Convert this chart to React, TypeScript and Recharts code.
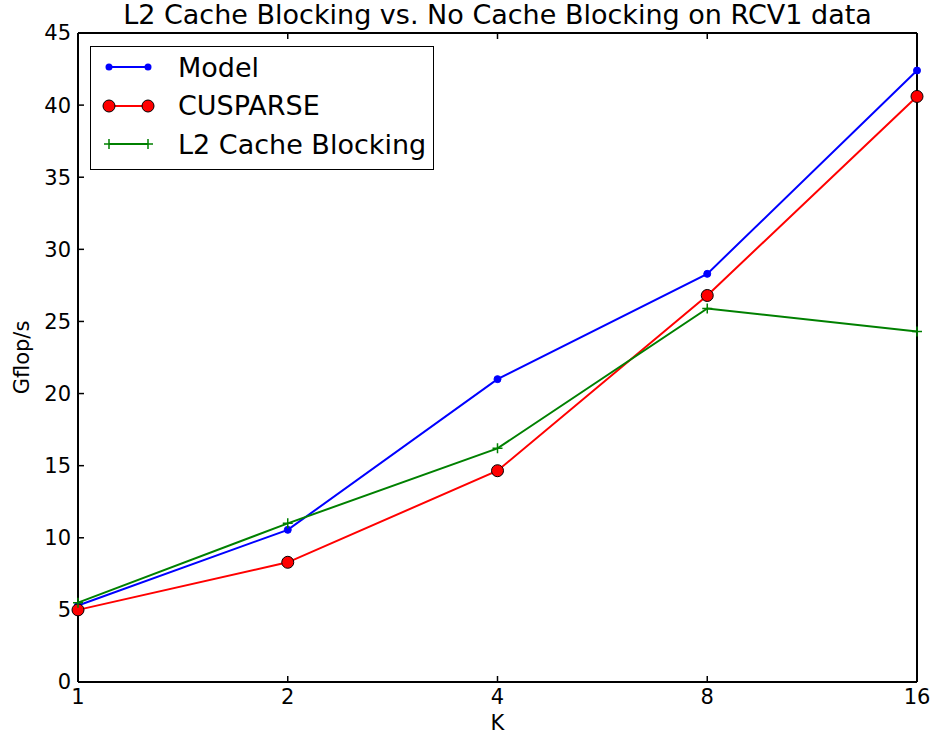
import React from 'react';
import { LineChart, Line, XAxis, YAxis, Legend, Label } from 'recharts';

// Gflop/s measured per number of vectors K
const kValues = ['1', '2', '4', '8', '16'];
const modelGflops = [5.3, 10.55, 21.0, 28.3, 42.4];
const cusparseGflops = [5.0, 8.3, 14.65, 26.8, 40.6];
const l2BlockingGflops = [5.5, 11.0, 16.2, 25.9, 24.3];
const yTicks = [0, 5, 10, 15, 20, 25, 30, 35, 40, 45];

// legend keeps the plotting order
const seriesOrder = ['model', 'cusparse', 'l2'];

const data = kValues.map((k, i) => ({
    k,
    model: modelGflops[i],
    cusparse: cusparseGflops[i],
    l2: l2BlockingGflops[i],
}));

const FONT = '"DejaVu Sans", Verdana, sans-serif';
const BLUE = '#0000ff';
const RED = '#ff0000';
const GREEN = '#008000';

const tickStyle = { fill: '#000', fontSize: 21, fontFamily: FONT };
const frame = { stroke: '#000', strokeWidth: 2 };
const tickMark = { stroke: '#000', strokeWidth: 1.5 };

// matplotlib-style '+' marker
const PlusDot = (props: any) => {
    const { cx, cy, index } = props;
    if (cx == null || cy == null) return <g key={`plus-${index}`} />;
    return (
        <path
            key={`plus-${index}`}
            d={`M${cx - 5},${cy}H${cx + 5}M${cx},${cy - 5}V${cy + 5}`}
            stroke={GREEN}
            strokeWidth={1.5}
            fill="none"
        />
    );
};

const Empty = () => <g />;

const markerFor = (key: string, x: number, y: number) => {
    if (key === 'model') return <circle cx={x} cy={y} r={3.5} fill={BLUE} />;
    if (key === 'cusparse') return <circle cx={x} cy={y} r={6} fill={RED} stroke="#000" strokeWidth={1} />;
    return <path d={`M${x - 5},${y}H${x + 5}M${x},${y - 5}V${y + 5}`} stroke={GREEN} strokeWidth={1.5} />;
};

const LegendBox = ({ payload }: any) => {
    const items = [...(payload || [])].sort(
        (a: any, b: any) => seriesOrder.indexOf(a.dataKey) - seriesOrder.indexOf(b.dataKey)
    );
    return (
        <div
            style={{
                border: '1.5px solid #000',
                background: '#fff',
                boxSizing: 'border-box',
                width: 344,
                padding: '1px 0 5px 11px',
                fontFamily: FONT,
                fontSize: 27,
                color: '#000',
            }}
        >
            {items.map((item: any) => (
                <div key={item.dataKey} style={{ display: 'flex', alignItems: 'center', height: 38.5 }}>
                    <svg width={54} height={20} style={{ display: 'block' }}>
                        <line x1={7} y1={10} x2={46} y2={10} stroke={item.color} strokeWidth={2} />
                        {markerFor(item.dataKey, 7, 10)}
                        {markerFor(item.dataKey, 46, 10)}
                    </svg>
                    <span style={{ marginLeft: 22, whiteSpace: 'nowrap' }}>{item.value}</span>
                </div>
            ))}
        </div>
    );
};

const YTitle = ({ viewBox }: any) => (
    <text
        x={viewBox.x + 22}
        y={viewBox.y + viewBox.height / 2}
        transform={`rotate(-90, ${viewBox.x + 22}, ${viewBox.y + viewBox.height / 2})`}
        textAnchor="middle"
        dominantBaseline="central"
        fontFamily={FONT}
        fontSize={21}
        fill="#000"
    >
        Gflop/s
    </text>
);

const XTitle = ({ viewBox }: any) => (
    <text
        x={viewBox.x + viewBox.width / 2}
        y={viewBox.y + 41}
        textAnchor="middle"
        dominantBaseline="central"
        fontFamily={FONT}
        fontSize={21}
        fill="#000"
    >
        K
    </text>
);

export default function App() {
    return (
        <div style={{ position: 'absolute', left: 0, top: 0, width: 936, height: 735, background: '#fff' }}>
            <div
                style={{
                    position: 'absolute',
                    left: 78,
                    top: 0,
                    width: 839,
                    textAlign: 'center',
                    fontFamily: FONT,
                    fontSize: 27,
                    lineHeight: '30px',
                    color: '#000',
                }}
            >
                L2 Cache Blocking vs. No Cache Blocking on RCV1 data
            </div>
            <LineChart width={936} height={735} data={data} margin={{ top: 32, right: 18, bottom: 0, left: 0 }}>
                <XAxis
                    dataKey="k"
                    height={53}
                    interval={0}
                    axisLine={frame}
                    tickLine={tickMark}
                    tickSize={-6}
                    tickMargin={13}
                    tick={tickStyle}
                >
                    <Label content={<XTitle />} />
                </XAxis>
                <XAxis
                    xAxisId="top"
                    dataKey="k"
                    orientation="top"
                    height={1}
                    interval={0}
                    axisLine={frame}
                    tickLine={tickMark}
                    tickSize={-6}
                    tick={<Empty />}
                />
                <YAxis
                    domain={[0, 45]}
                    ticks={yTicks}
                    interval={0}
                    width={78}
                    axisLine={frame}
                    tickLine={tickMark}
                    tickSize={-6}
                    tickMargin={13}
                    tick={tickStyle}
                >
                    <Label content={<YTitle />} />
                </YAxis>
                <YAxis
                    yAxisId="right"
                    orientation="right"
                    domain={[0, 45]}
                    ticks={yTicks}
                    interval={0}
                    width={1}
                    axisLine={frame}
                    tickLine={tickMark}
                    tickSize={-6}
                    tick={<Empty />}
                />
                <Legend
                    layout="vertical"
                    align="center"
                    verticalAlign="middle"
                    content={<LegendBox />}
                    wrapperStyle={{ left: 90, top: 46, width: 344 }}
                />
                <Line
                    type="linear"
                    dataKey="model"
                    name="Model"
                    stroke={BLUE}
                    strokeWidth={2}
                    dot={{ r: 3.5, fill: BLUE, stroke: BLUE, strokeWidth: 1 }}
                    activeDot={false}
                    isAnimationActive={false}
                />
                <Line
                    type="linear"
                    dataKey="cusparse"
                    name="CUSPARSE"
                    stroke={RED}
                    strokeWidth={2}
                    dot={{ r: 6, fill: RED, stroke: '#000', strokeWidth: 1 }}
                    activeDot={false}
                    isAnimationActive={false}
                />
                <Line
                    type="linear"
                    dataKey="l2"
                    name="L2 Cache Blocking"
                    stroke={GREEN}
                    strokeWidth={2}
                    dot={PlusDot}
                    activeDot={false}
                    isAnimationActive={false}
                />
            </LineChart>
        </div>
    );
}
